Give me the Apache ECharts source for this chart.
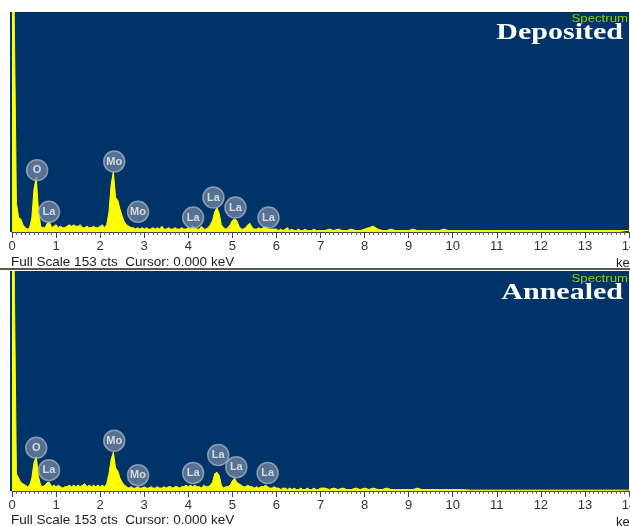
<!DOCTYPE html>
<html><head><meta charset="utf-8">
<script src="https://cdn.jsdelivr.net/npm/echarts@6/dist/echarts.min.js"></script>
<style>html,body{margin:0;padding:0;background:#fff}#c{width:630px;height:526px}</style>
</head><body><div id="c"></div><script>
// ---- data ----
const keVTickLabels = ['0','1','2','3','4','5','6','7','8','9','10','11','12','13','14'];
const panelTitles = ['Deposited', 'Annealed'];
const fullScaleText = 'Full Scale 153 cts  Cursor: 0.000 keV';
const fullScaleCounts = 153;

const depositedSpectrum = [
[0.00,153],[0.05,153],[0.10,20],[0.15,10],[0.20,9],[0.25,5],[0.30,3],[0.35,2],[0.40,3],[0.45,10],
[0.50,30],[0.55,38],[0.60,15],[0.65,4],[0.70,3],[0.75,3],[0.80,6],[0.85,7],[0.90,3],[0.95,4],
[1.00,5],[1.05,3],[1.10,4],[1.15,3],[1.20,3],[1.25,4],[1.30,5],[1.35,4],[1.40,5],[1.45,4],
[1.50,4],[1.55,5],[1.60,3],[1.65,3],[1.70,4],[1.75,3],[1.80,3],[1.85,4],[1.90,3],[1.95,3],
[2.00,4],[2.05,5],[2.10,3],[2.15,5],[2.20,14],[2.25,33],[2.30,42],[2.35,24],[2.40,22],[2.45,16],
[2.50,11],[2.55,7],[2.60,5],[2.65,4],[2.70,3],[2.75,3],[2.80,2],[2.85,3],[2.90,2],[2.95,3],
[3.00,2],[3.05,3],[3.10,2],[3.15,2],[3.20,3],[3.25,2],[3.30,3],[3.35,2],[3.40,4],[3.45,2],
[3.50,2],[3.55,3],[3.60,2],[3.65,2],[3.70,3],[3.75,2],[3.80,2],[3.85,3],[3.90,2],[3.95,2],
[4.00,3],[4.05,2],[4.10,4],[4.15,3],[4.20,2],[4.25,2],[4.30,4],[4.35,2],[4.40,2],[4.45,3],
[4.50,5],[4.55,8],[4.60,14],[4.65,17],[4.70,13],[4.75,5],[4.80,3],[4.85,2],[4.90,3],[4.95,5],
[5.00,8],[5.05,9],[5.10,8],[5.15,4],[5.20,2],[5.25,2],[5.30,3],[5.35,5],[5.40,6],[5.45,3],
[5.50,2],[5.55,2],[5.60,3],[5.65,2],[5.70,3],[5.75,4],[5.80,3],[5.85,2],[5.90,2],[5.95,2],
[6.00,2],[6.05,1],[6.10,2],[6.15,1],[6.20,2],[6.25,3],[6.30,1],[6.35,2],[6.40,1],[6.45,1],
[6.50,2],[6.55,1],[6.60,1],[6.65,2],[6.70,1],[6.75,1],[6.80,1],[6.85,2],[6.90,1],[6.95,1],
[7.0,1],[7.1,1],[7.2,2],[7.3,1],[7.4,2],[7.5,1],[7.6,1],[7.7,2],[7.8,1],[7.9,1],
[8.0,2],[8.1,3],[8.2,4],[8.3,2],[8.4,1],[8.5,1],[8.6,2],[8.7,1],[8.8,1],[8.9,1],
[9.0,1],[9.1,2],[9.2,1],[9.3,1],[9.4,1],[9.5,1],[9.6,1],[9.7,1],[9.8,2],[9.9,1],
[10.0,1],[10.2,1],[10.4,1],[10.6,1],[10.8,1],[11.0,1],[11.2,1],[11.4,1],[11.6,1],[11.8,1],
[12.0,1],[12.2,1],[12.4,1],[12.6,1],[12.8,1],[13.0,1],[13.2,1],[13.4,1],[13.6,1],[13.8,1],[14.0,1]
];

const annealedSpectrum = [
[0.00,153],[0.05,153],[0.10,12],[0.15,9],[0.20,6],[0.25,5],[0.30,4],[0.35,3],[0.40,4],[0.45,9],
[0.50,20],[0.55,24],[0.60,10],[0.65,4],[0.70,3],[0.75,4],[0.80,6],[0.85,6],[0.90,3],[0.95,4],
[1.00,3],[1.05,4],[1.10,3],[1.15,2],[1.20,3],[1.25,3],[1.30,4],[1.35,3],[1.40,4],[1.45,3],
[1.50,4],[1.55,3],[1.60,4],[1.65,5],[1.70,3],[1.75,4],[1.80,3],[1.85,4],[1.90,3],[1.95,4],
[2.00,3],[2.05,4],[2.10,3],[2.15,5],[2.20,12],[2.25,22],[2.30,27],[2.35,16],[2.40,14],[2.45,9],
[2.50,6],[2.55,4],[2.60,3],[2.65,2],[2.70,3],[2.75,2],[2.80,2],[2.85,3],[2.90,2],[2.95,2],
[3.00,3],[3.05,2],[3.10,2],[3.15,3],[3.20,2],[3.25,2],[3.30,3],[3.35,2],[3.40,2],[3.45,3],
[3.50,2],[3.55,3],[3.60,3],[3.65,2],[3.70,3],[3.75,3],[3.80,2],[3.85,3],[3.90,3],[3.95,4],
[4.00,3],[4.05,4],[4.10,3],[4.15,4],[4.20,3],[4.25,3],[4.30,2],[4.35,4],[4.40,3],[4.45,3],
[4.50,4],[4.55,6],[4.60,12],[4.65,13],[4.70,11],[4.75,4],[4.80,2],[4.85,3],[4.90,3],[4.95,4],
[5.00,7],[5.05,9],[5.10,6],[5.15,5],[5.20,4],[5.25,3],[5.30,3],[5.35,4],[5.40,3],[5.45,3],
[5.50,2],[5.55,3],[5.60,2],[5.65,3],[5.70,3],[5.75,4],[5.80,3],[5.85,2],[5.90,2],[5.95,3],
[6.00,2],[6.05,2],[6.10,1],[6.15,2],[6.20,2],[6.25,1],[6.30,2],[6.35,1],[6.40,2],[6.45,1],
[6.50,1],[6.55,2],[6.60,1],[6.65,1],[6.70,2],[6.75,1],[6.80,1],[6.85,2],[6.90,1],[6.95,1],
[7.0,2],[7.1,2],[7.2,1],[7.3,2],[7.4,1],[7.5,2],[7.6,1],[7.7,1],[7.8,2],[7.9,1],
[8.0,2],[8.1,1],[8.2,2],[8.3,1],[8.4,1],[8.5,2],[8.6,1],[8.7,1],[8.8,1],[8.9,1],
[9.0,1],[9.1,1],[9.2,2],[9.3,1],[9.4,1],[9.5,1],[9.6,1],[9.7,1],[9.8,1],[9.9,1],
[10.0,1],[10.2,1],[10.4,0.6],[10.6,0.6],[10.8,0.6],[11.0,0.6],[11.2,0.6],[11.4,0.6],[11.6,0.6],[11.8,0.6],
[12.0,0.6],[12.2,0.6],[12.4,0.6],[12.6,0.6],[12.8,0.6],[13.0,0.6],[13.2,0.6],[13.4,0.6],[13.6,0.6],[13.8,0.6],[14.0,0.6]
];

// peak badges: element name, energy (keV), badge height (counts)
const depositedPeakNames = ['O','La','Mo','Mo','La','La','La','La'];
const depositedPeakEnergy = [0.57,0.84,2.32,2.86,4.11,4.57,5.07,5.82];
const depositedPeakHeight = [43,14,49,14,10,24,17,10];
const annealedPeakNames = ['O','La','Mo','Mo','La','La','La','La'];
const annealedPeakEnergy = [0.55,0.84,2.32,2.86,4.11,4.68,5.09,5.80];
const annealedPeakHeight = [30,14.5,35,11,12.5,25,16.5,12.5];

// ---- chart ----
const BLUE = '#003468';
const YELLOW = '#ffff00';
const chart = echarts.init(document.getElementById('c'), null, {renderer:'canvas'});

function xAxisCfg(gi){
  return {
    type:'value', gridIndex:gi, min:0, max:14, interval:1,
    axisLine:{show:true, lineStyle:{color:'#444', width:1}},
    axisTick:{show:true, length:6, lineStyle:{color:'#444'}},
    minorTick:{show:true, splitNumber:10, length:3, lineStyle:{color:'#666'}},
    splitLine:{show:false},
    axisLabel:{fontSize:13, color:'#333', margin:8, fontFamily:'Arial, "Liberation Sans"',
      formatter:(v)=>keVTickLabels[Math.round(v)] ?? ''}
  };
}
function yAxisCfg(gi){
  return {type:'value', gridIndex:gi, min:0, max:fullScaleCounts, show:false};
}
function specSeries(gi, data){
  return {type:'line', xAxisIndex:gi, yAxisIndex:gi, data:data, symbol:'none', clip:true,
    lineStyle:{color:YELLOW, width:1}, areaStyle:{color:YELLOW, opacity:1}, itemStyle:{color:YELLOW},
    silent:true, z:2};
}
function badgeSeries(gi, names, en, h){
  return {type:'scatter', xAxisIndex:gi, yAxisIndex:gi, silent:true, z:5,
    data:names.map((n,i)=>({name:n, value:[en[i], h[i]]})),
    symbol:'circle', symbolSize:21,
    itemStyle:{color:'rgba(128,142,166,0.85)', borderColor:'rgba(175,185,200,0.9)', borderWidth:1.5},
    label:{show:true, position:'inside', formatter:'{b}', color:'#f4f4f4', fontSize:11,
      fontWeight:'bold', fontFamily:'Arial, "Liberation Sans"'}
  };
}
function textEl(x, y, text, font, fill, align, scaleX){
  return {type:'text', x:x, y:y, scaleX:scaleX||1, z:10,
    style:{text:text, font:font, fill:fill, textAlign:align||'left', textVerticalAlign:'middle'}};
}

const gridBase = {left:12, right:1, height:220, show:true, backgroundColor:BLUE, borderWidth:0,
  containLabel:false, outerBoundsMode:'none'};
const option = {
  backgroundColor:'#ffffff',
  animation:false,
  grid:[
    Object.assign({top:12}, gridBase),
    Object.assign({top:271}, gridBase)
  ],
  xAxis:[xAxisCfg(0), xAxisCfg(1)],
  yAxis:[yAxisCfg(0), yAxisCfg(1)],
  series:[
    specSeries(0, depositedSpectrum),
    specSeries(1, annealedSpectrum),
    badgeSeries(0, depositedPeakNames, depositedPeakEnergy, depositedPeakHeight),
    badgeSeries(1, annealedPeakNames, annealedPeakEnergy, annealedPeakHeight)
  ],
  graphic:[
    {type:'rect', shape:{x:10, y:12, width:2, height:220}, style:{fill:BLUE}, z:0},
    {type:'rect', shape:{x:10, y:271, width:2, height:220}, style:{fill:BLUE}, z:0},
    {type:'line', shape:{x1:0, y1:269, x2:630, y2:269}, style:{stroke:'#222', lineWidth:1.5}, z:10},
    textEl(628, 19, 'Spectrum', '11px Arial, "Liberation Sans"', '#99cc00', 'right', 1.2),
    textEl(623, 33, panelTitles[0], 'bold 24px "Liberation Serif", "Times New Roman", serif', '#ffffff', 'right', 1.25),
    textEl(628, 279, 'Spectrum', '11px Arial, "Liberation Sans"', '#99cc00', 'right', 1.2),
    textEl(623, 293, panelTitles[1], 'bold 24px "Liberation Serif", "Times New Roman", serif', '#ffffff', 'right', 1.25),
    textEl(11, 262, fullScaleText, '13px Arial, "Liberation Sans"', '#222', 'left', 1.04),
    textEl(616, 263, 'keV', '13px Arial, "Liberation Sans"', '#222'),
    textEl(11, 520, fullScaleText, '13px Arial, "Liberation Sans"', '#222', 'left', 1.04),
    textEl(616, 522, 'keV', '13px Arial, "Liberation Sans"', '#222')
  ]
};
chart.setOption(option);
</script></body></html>
